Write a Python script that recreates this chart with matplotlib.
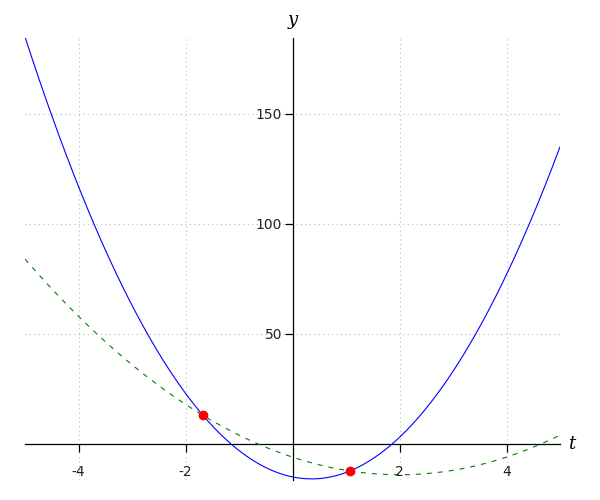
import numpy as np
import matplotlib
matplotlib.use("Agg")
import matplotlib.pyplot as plt

# Data
t_range = [-5.0, 5.0]
blue_coeffs = [7.0, -5.0, -15.0]    # y = 7t^2 - 5t - 15
green_coeffs = [2.0, -8.0, -6.0]    # y = 2t^2 - 8t - 6
points_t = [-1.675, 1.075]
points_y = [13.0, -12.3]
xticks = [-4, -2, 2, 4]
yticks = [50, 100, 150]

fig = plt.figure(figsize=(6, 5), dpi=100)
ax = fig.add_axes([25/600, 20/500, 535/600, 442/500])

t = np.linspace(t_range[0], t_range[1], 400)
ax.plot(t, np.polyval(blue_coeffs, t), color='blue', lw=0.8, zorder=3)
ax.plot(t, np.polyval(green_coeffs, t), color='green', lw=0.8,
        dashes=(4.5, 5.4), zorder=3)
ax.plot(points_t, points_y, 'o', color='red', ms=6, mec='red', zorder=4)

ax.set_xlim(-5, 5)
ax.set_ylim(-16.4, 184.5)

ax.spines['left'].set_position(('data', 0))
ax.spines['bottom'].set_position(('data', 0))
ax.spines['right'].set_visible(False)
ax.spines['top'].set_visible(False)
for s in ('left', 'bottom'):
    ax.spines[s].set_linewidth(0.9)

ax.set_xticks(xticks)
ax.set_yticks(yticks)
ax.set_xticklabels([str(v) for v in xticks])
ax.set_yticklabels([str(v) for v in yticks])
ax.tick_params(axis='x', direction='out', length=6, width=0.9, pad=9,
               labelsize=10, colors='black', labelcolor='#222222')
ax.tick_params(axis='y', direction='out', length=6, width=0.9, pad=1.5,
               labelsize=10, colors='black', labelcolor='#222222')

ax.grid(True, linestyle=(0, (1, 3)), color='#bbbbbb', lw=0.8, zorder=0)
ax.set_axisbelow(True)

ax.text(0, 1.02, 'y', transform=ax.get_xaxis_transform(), ha='center',
        va='bottom', fontsize=13, family='DejaVu Serif', style='italic')
ax.text(1.015, 0, 't', transform=ax.get_yaxis_transform(), ha='left',
        va='center', fontsize=13, family='DejaVu Serif', style='italic')

fig.savefig('out.png', dpi=100)
